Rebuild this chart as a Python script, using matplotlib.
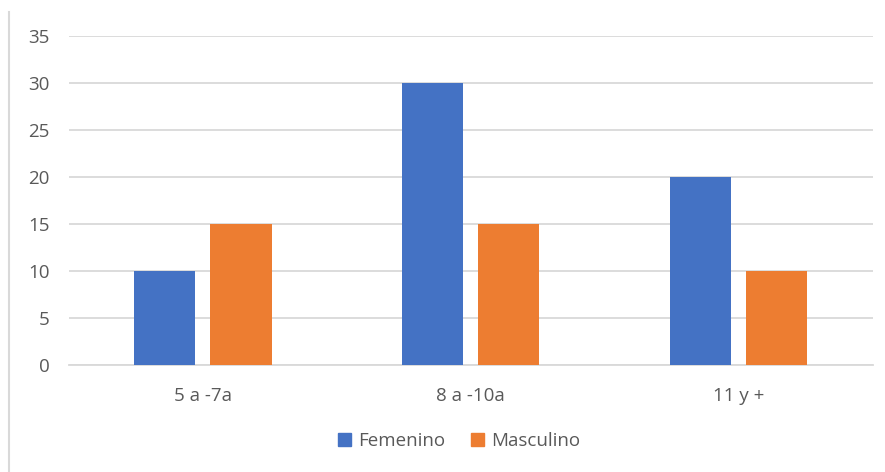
import matplotlib
matplotlib.use("Agg")
import matplotlib.pyplot as plt
from matplotlib.lines import Line2D
from matplotlib.patches import Patch
import numpy as np

plt.rcParams['font.family'] = ['Open Sans', 'DejaVu Sans']

categories = ["5 a -7a", "8 a -10a", "11 y +"]
femenino = [10, 30, 20]
masculino = [15, 15, 10]

blue = "#4472C4"
orange = "#ED7D31"
text_gray = "#595959"
grid_gray = "#D9D9D9"

fig = plt.figure(figsize=(8.85, 4.72), dpi=100)
ax = fig.add_axes([0.078, 0.2267, 0.908, 0.697])

x = np.arange(len(categories))
w = 0.228
off = 0.142
ax.bar(x - off, femenino, w, color=blue, zorder=3, label="Femenino")
ax.bar(x + off, masculino, w, color=orange, zorder=3, label="Masculino")

ax.set_xlim(-0.5, len(categories) - 0.5)
ax.set_ylim(0, 35)
ax.set_yticks(range(0, 36, 5))
ax.set_xticks(x)
ax.set_xticklabels(categories)
ax.yaxis.grid(True, color=grid_gray, linewidth=1.3, zorder=0)
for s in ['top', 'right', 'left']:
    ax.spines[s].set_visible(False)
ax.spines['bottom'].set_color(grid_gray)
ax.spines['bottom'].set_linewidth(1.3)
ax.tick_params(axis='both', length=0, labelsize=13.5, labelcolor=text_gray)
ax.tick_params(axis='y', pad=14)
ax.tick_params(axis='x', pad=16)

handles = [Patch(color=blue), Patch(color=orange)]
fig.legend(handles, ["Femenino", "Masculino"], loc='center',
           bbox_to_anchor=(0.519, 0.066), ncol=2, frameon=False,
           fontsize=13.5, labelcolor=text_gray, handlelength=0.65,
           handleheight=0.65, handletextpad=0.4, columnspacing=1.4)

# thin border on the left edge
fig.add_artist(Line2D([0.0097, 0.0097], [0, 0.975], color=grid_gray,
                      linewidth=1.5, transform=fig.transFigure))

fig.savefig("out.png", dpi=100)
